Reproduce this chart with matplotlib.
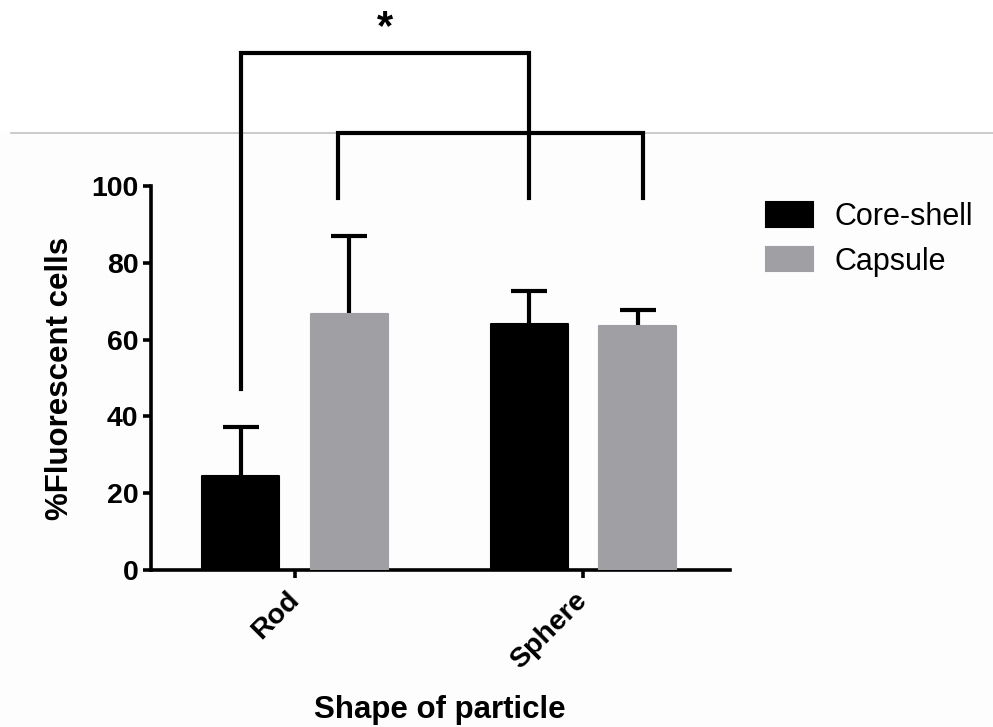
import matplotlib
matplotlib.use("Agg")
import matplotlib.pyplot as plt
import numpy as np
from matplotlib.patches import FancyBboxPatch, Rectangle
from matplotlib.legend_handler import HandlerPatch
from matplotlib.lines import Line2D

plt.rcParams['font.family'] = ['Liberation Sans', 'DejaVu Sans']

# ---- data ----
categories = ["Rod", "Sphere"]
series_names = ["Core-shell", "Capsule"]
core_shell = [24.6, 64.0]
capsule = [66.7, 63.5]
core_shell_err = [12.7, 8.7]
capsule_err = [20.3, 4.2]
y_ticks = [0, 20, 40, 60, 80, 100]
colors = ["#000000", "#a0a0a4"]

fig = plt.figure(figsize=(9.93, 7.27), dpi=100)
fig.patch.set_facecolor("white")

# faint page boundary line seen in the reference
fig.add_artist(Rectangle((0, 0), 1, 0.8165, transform=fig.transFigure,
                         facecolor="#fdfdfd", edgecolor="none", zorder=-10))
fig.add_artist(Line2D([0.011, 1.0], [0.8165, 0.8165], transform=fig.transFigure,
                      color="#bdbdbd", lw=1.1, zorder=-9))

ax = fig.add_axes([0.15206, 0.2160, 0.58308, 0.5282])
ax.set_facecolor("none")

x = np.arange(len(categories))
w = 0.267
off = 0.1875
for i, (vals, errs, name) in enumerate([(core_shell, core_shell_err, series_names[0]),
                                        (capsule, capsule_err, series_names[1])]):
    pos = x + (-off if i == 0 else off)
    ax.bar(pos, vals, width=w, color=colors[i], edgecolor=colors[i], linewidth=1.5,
           joinstyle="round", label=name, zorder=3)
    cont = ax.errorbar(pos, vals, yerr=[np.zeros(len(vals)), errs], fmt="none",
                       ecolor="black", elinewidth=3.0, capsize=13, capthick=3.0, zorder=2)
    caps = cont[1]
    if len(caps) > 0:
        caps[0].set_visible(False)

ax.set_xlim(-0.499, 1.508)
ax.set_ylim(0, 100)
ax.set_yticks(y_ticks)
ax.set_xticks(x)
ax.set_xticklabels(categories, rotation=45, ha="right", va="center",
                   rotation_mode="anchor", fontsize=20.5, fontweight="bold")
ax.set_yticklabels([str(t) for t in y_ticks], fontsize=20.5, fontweight="bold")
for s in ["top", "right"]:
    ax.spines[s].set_visible(False)
for s in ["left", "bottom"]:
    ax.spines[s].set_linewidth(2.6)
ax.tick_params(axis="both", width=2.6, length=6, pad=3)
ax.tick_params(axis="x", pad=13)

ax.set_ylabel("%Fluorescent cells", fontsize=22.5, fontweight="bold")
ax.yaxis.set_label_coords(-0.131, 0.5)
ax.set_xlabel("Shape of particle", fontsize=22.5, fontweight="bold")
ax.xaxis.set_label_coords(0.499, -0.325)

# significance brackets (data coordinates, drawn above the axis range)
br = dict(color="black", lw=3.0, clip_on=False, solid_joinstyle="miter", zorder=5)
ax.plot([-0.187, -0.187, 0.811, 0.811], [47, 134.6, 134.6, 96.8], **br)
ax.plot([0.149, 0.149, 1.206, 1.206], [96.8, 113.8, 113.8, 96.8], **br)
ax.text((-0.187 + 0.811) / 2, 135.9, "*", ha="center", va="bottom",
        fontsize=30, fontweight="bold", clip_on=False)


class RoundHandler(HandlerPatch):
    def create_artists(self, legend, orig_handle, xdescent, ydescent, width, height,
                       fontsize, trans):
        p = FancyBboxPatch((-xdescent + 2, -ydescent + 2), width - 4, height - 4,
                           boxstyle="round,pad=2,rounding_size=3",
                           facecolor=orig_handle.get_facecolor(),
                           edgecolor="none", transform=trans)
        return [p]


handles, labels = ax.get_legend_handles_labels()
leg = fig.legend(handles, labels, loc="upper left", bbox_to_anchor=(0.756, 0.743),
                 frameon=False, fontsize=22, handlelength=1.55, handleheight=0.85,
                 handletextpad=0.7, labelspacing=0.48, borderpad=0,
                 handler_map={Rectangle: RoundHandler()})

fig.savefig("out.png", dpi=100, facecolor="white")
